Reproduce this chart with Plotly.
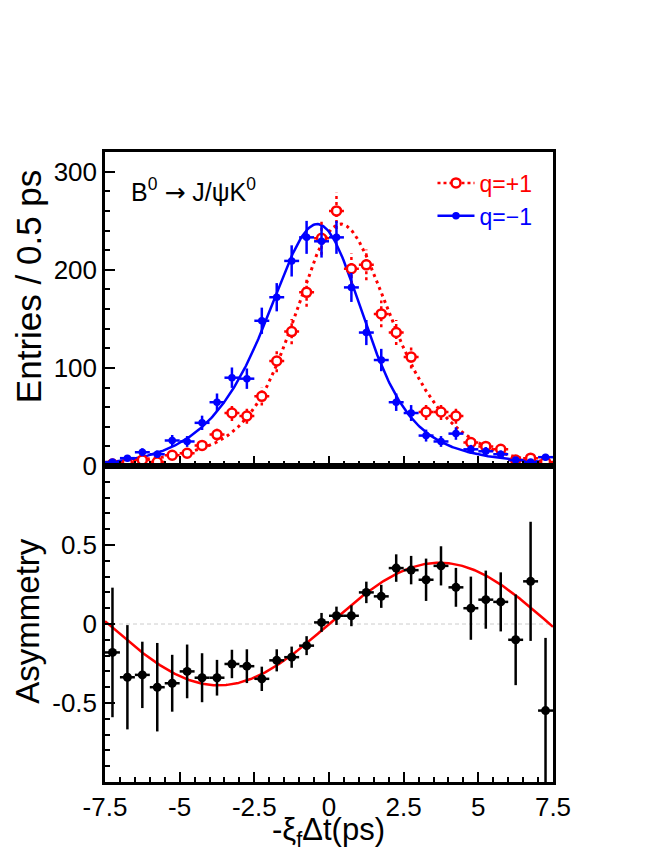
import math
import numpy as np
import plotly.graph_objects as go
from plotly.subplots import make_subplots

# ---------------- data ----------------
bin_centers = [-7.25, -6.75, -6.25, -5.75, -5.25, -4.75, -4.25, -3.75, -3.25, -2.75,
               -2.25, -1.75, -1.25, -0.75, -0.25, 0.25, 0.75, 1.25, 1.75, 2.25,
               2.75, 3.25, 3.75, 4.25, 4.75, 5.25, 5.75, 6.25, 6.75, 7.25]
bin_half_width = 0.25

q_plus_counts = [2, 3, 6, 4, 11, 13, 21, 32, 54, 51,
                 71, 107, 137, 177, 232, 260, 201, 205, 155, 136,
                 111, 55, 55, 51, 24, 20, 17, 6, 8, 4]
q_plus_errors = [1.6, 1.9, 2.7, 2.2, 3.6, 4.0, 5.0, 6.2, 8.1, 7.9,
                 9.3, 11.4, 12.9, 14.6, 16.8, 18.5, 15.6, 15.7, 13.7, 12.8,
                 11.6, 8.2, 8.2, 7.9, 5.4, 4.9, 4.5, 2.7, 3.1, 2.2]

q_minus_counts = [4, 8, 14, 12, 26, 25, 44, 65, 90, 89,
                  148, 172, 209, 233, 229, 233, 182, 136, 108, 65,
                  54, 31, 25, 33, 17, 15, 12, 6, 4, 9]
q_minus_errors = [2.2, 3.1, 4.1, 3.8, 5.6, 5.5, 7.3, 8.9, 10.4, 10.4,
                  13.4, 14.4, 15.9, 16.8, 16.6, 16.8, 14.8, 12.8, 11.4, 8.9,
                  8.1, 6.1, 5.5, 6.3, 4.5, 4.3, 3.8, 2.7, 2.2, 3.3]

asym_values = [-0.18, -0.337, -0.322, -0.40, -0.375, -0.30, -0.34, -0.34, -0.253, -0.267,
               -0.347, -0.23, -0.21, -0.137, 0.01, 0.052, 0.052, 0.20, 0.175, 0.354,
               0.341, 0.28, 0.368, 0.232, 0.10, 0.154, 0.14, -0.10, 0.27, -0.548]
asym_errors = [0.41, 0.33, 0.21, 0.28, 0.18, 0.17, 0.155, 0.113, 0.09, 0.107,
               0.077, 0.07, 0.067, 0.06, 0.06, 0.058, 0.066, 0.068, 0.073, 0.087,
               0.09, 0.134, 0.124, 0.123, 0.20, 0.184, 0.187, 0.287, 0.377, 0.46]

# fit-model parameters (lifetime, resolution, CP amplitude, mixing frequency, normalisation)
fit_tau = 1.53
fit_sigma = 1.0
fit_amp = 0.388
fit_omega = 0.425
fit_norm = 751.0

x_tick_values = [-7.5, -5, -2.5, 0, 2.5, 5, 7.5]
x_tick_labels = ["-7.5", "-5", "-2.5", "0", "2.5", "5", "7.5"]
top_tick_values = [0, 100, 200, 300]
top_tick_labels = ["0", "100", "200", "300"]
bot_tick_values = [-0.5, 0, 0.5]
bot_tick_labels = ["-0.5", "0", "0.5"]

RED = "#ff0000"
BLUE = "#0000ff"
FONT = "Liberation Sans"

# ---------------- fit curves ----------------
t = np.linspace(-7.5, 7.5, 401)
s = fit_sigma / fit_tau


def smeared_exp(tv):
    out = []
    for v in tv:
        a = math.exp(-v / fit_tau) * math.erfc((s - v / fit_sigma) / math.sqrt(2))
        b = math.exp(v / fit_tau) * math.erfc((s + v / fit_sigma) / math.sqrt(2))
        out.append(0.5 * math.exp(s * s / 2) * (a + b))
    return np.array(out)


total_curve = fit_norm * smeared_exp(t)
asym_curve = fit_amp * np.sin(fit_omega * t)
plus_curve = 0.5 * total_curve * (1 + asym_curve)
minus_curve = 0.5 * total_curve * (1 - asym_curve)

# ---------------- figure ----------------
fig = make_subplots(rows=2, cols=1, shared_xaxes=True, vertical_spacing=0,
                    row_heights=[314, 316])

# curves
fig.add_trace(go.Scatter(x=t, y=plus_curve, mode="lines",
                         line=dict(color=RED, width=3, dash="3px,4px"),
                         showlegend=False, hoverinfo="skip"), row=1, col=1)
fig.add_trace(go.Scatter(x=t, y=minus_curve, mode="lines",
                         line=dict(color=BLUE, width=2.5),
                         showlegend=False, hoverinfo="skip"), row=1, col=1)

# red dotted error bars
ex, ey = [], []
for xc, yc, er in zip(bin_centers, q_plus_counts, q_plus_errors):
    ex += [xc - bin_half_width, xc + bin_half_width, None, xc, xc, None]
    ey += [yc, yc, None, yc - er, yc + er, None]
fig.add_trace(go.Scatter(x=ex, y=ey, mode="lines",
                         line=dict(color=RED, width=2.5, dash="3px,3px"),
                         showlegend=False, hoverinfo="skip"), row=1, col=1)
fig.add_trace(go.Scatter(x=bin_centers, y=q_plus_counts, mode="markers",
                         marker=dict(symbol="circle", size=9, color="white",
                                     line=dict(color=RED, width=2.5)),
                         showlegend=False), row=1, col=1)

# blue points
fig.add_trace(go.Scatter(x=bin_centers, y=q_minus_counts, mode="markers",
                         marker=dict(symbol="circle", size=7.5, color=BLUE),
                         error_y=dict(type="data", array=q_minus_errors, color=BLUE,
                                      thickness=2.5, width=0),
                         error_x=dict(type="constant", value=bin_half_width, color=BLUE,
                                      thickness=2.5, width=0),
                         showlegend=False), row=1, col=1)

# legend entries
fig.add_trace(go.Scatter(x=[None], y=[None], mode="lines+markers",
                         name='<span style="color:#ff0000">q=+1</span>',
                         line=dict(color=RED, width=2.5, dash="3px,3px"),
                         marker=dict(symbol="circle", size=9, color="white",
                                     line=dict(color=RED, width=2.5))), row=1, col=1)
fig.add_trace(go.Scatter(x=[None], y=[None], mode="lines+markers",
                         name='<span style="color:#0000ff">q=\u22121</span>',
                         line=dict(color=BLUE, width=2.5),
                         marker=dict(symbol="circle", size=7.5, color=BLUE)), row=1, col=1)

# asymmetry
fig.add_shape(type="line", xref="x2 domain", yref="y2", x0=0, x1=1, y0=0, y1=0,
              line=dict(color="#cccccc", width=1, dash="4px,3px"), layer="below")
fig.add_trace(go.Scatter(x=t, y=asym_curve, mode="lines",
                         line=dict(color=RED, width=2.5),
                         showlegend=False, hoverinfo="skip"), row=2, col=1)
fig.add_trace(go.Scatter(x=bin_centers, y=asym_values, mode="markers",
                         marker=dict(symbol="circle", size=9, color="black"),
                         error_y=dict(type="data", array=asym_errors, color="black",
                                      thickness=2.5, width=0),
                         error_x=dict(type="constant", value=bin_half_width, color="black",
                                      thickness=2.5, width=0),
                         showlegend=False), row=2, col=1)

axis_common = dict(showline=True, linewidth=2.5, linecolor="black", mirror=True,
                   ticks="inside", ticklen=10, tickwidth=2, tickcolor="black",
                   showgrid=False, zeroline=False,
                   tickfont=dict(family=FONT, size=26, color="black"))

fig.update_xaxes(range=[-7.5, 7.5], tickmode="array", tickvals=x_tick_values,
                 ticktext=x_tick_labels,
                 minor=dict(tickmode="linear", tick0=-7.5, dtick=0.5, ticks="inside",
                            ticklen=5, tickwidth=2, tickcolor="black", showgrid=False),
                 **axis_common)
fig.update_xaxes(showticklabels=False, row=1, col=1)
fig.update_yaxes(range=[0, 320], tickmode="array", tickvals=top_tick_values,
                 ticktext=top_tick_labels,
                 minor=dict(tickmode="linear", tick0=0, dtick=20, ticks="inside",
                            ticklen=5, tickwidth=2, tickcolor="black", showgrid=False),
                 row=1, col=1, **axis_common)
fig.update_yaxes(range=[-1, 1], tickmode="array", tickvals=bot_tick_values,
                 ticktext=bot_tick_labels,
                 minor=dict(tickmode="linear", tick0=0, dtick=0.1, ticks="inside",
                            ticklen=5, tickwidth=2, tickcolor="black", showgrid=False),
                 row=2, col=1, **axis_common)

fig.add_annotation(x=-6.7, y=281, xref="x", yref="y", xanchor="left", yanchor="middle",
                   text='B<sup>0</sup> <span style="font-family:DejaVu Sans">\u2192</span> J/\u03c8K<sup>0</sup>',
                   showarrow=False,
                   font=dict(family=FONT, size=25, color="black"))
fig.add_annotation(x=-0.172, y=0.787, xref="paper", yref="paper", textangle=-90,
                   xanchor="center", yanchor="middle",
                   text="Entries / 0.5 ps", showarrow=False,
                   font=dict(family=FONT, size=35, color="black"))
fig.add_annotation(x=-0.172, y=0.256, xref="paper", yref="paper", textangle=-90,
                   xanchor="center", yanchor="middle",
                   text="Asymmetry", showarrow=False,
                   font=dict(family=FONT, size=33, color="black"))
fig.add_annotation(x=0.498, y=-0.079, xref="paper", yref="paper",
                   xanchor="center", yanchor="middle",
                   text="-\u03be<sub>f</sub>\u0394t(ps)", showarrow=False,
                   font=dict(family=FONT, size=31, color="black"))

fig.update_layout(width=648, height=844,
                  margin=dict(l=97, r=103, t=144, b=70),
                  paper_bgcolor="white", plot_bgcolor="white",
                  showlegend=True,
                  legend=dict(x=0.731, y=0.985, xanchor="left", yanchor="top",
                              bgcolor="rgba(0,0,0,0)", itemwidth=37,
                              font=dict(family=FONT, size=23, color="black"),
                              tracegroupgap=0))

fig.write_html("out.html")
